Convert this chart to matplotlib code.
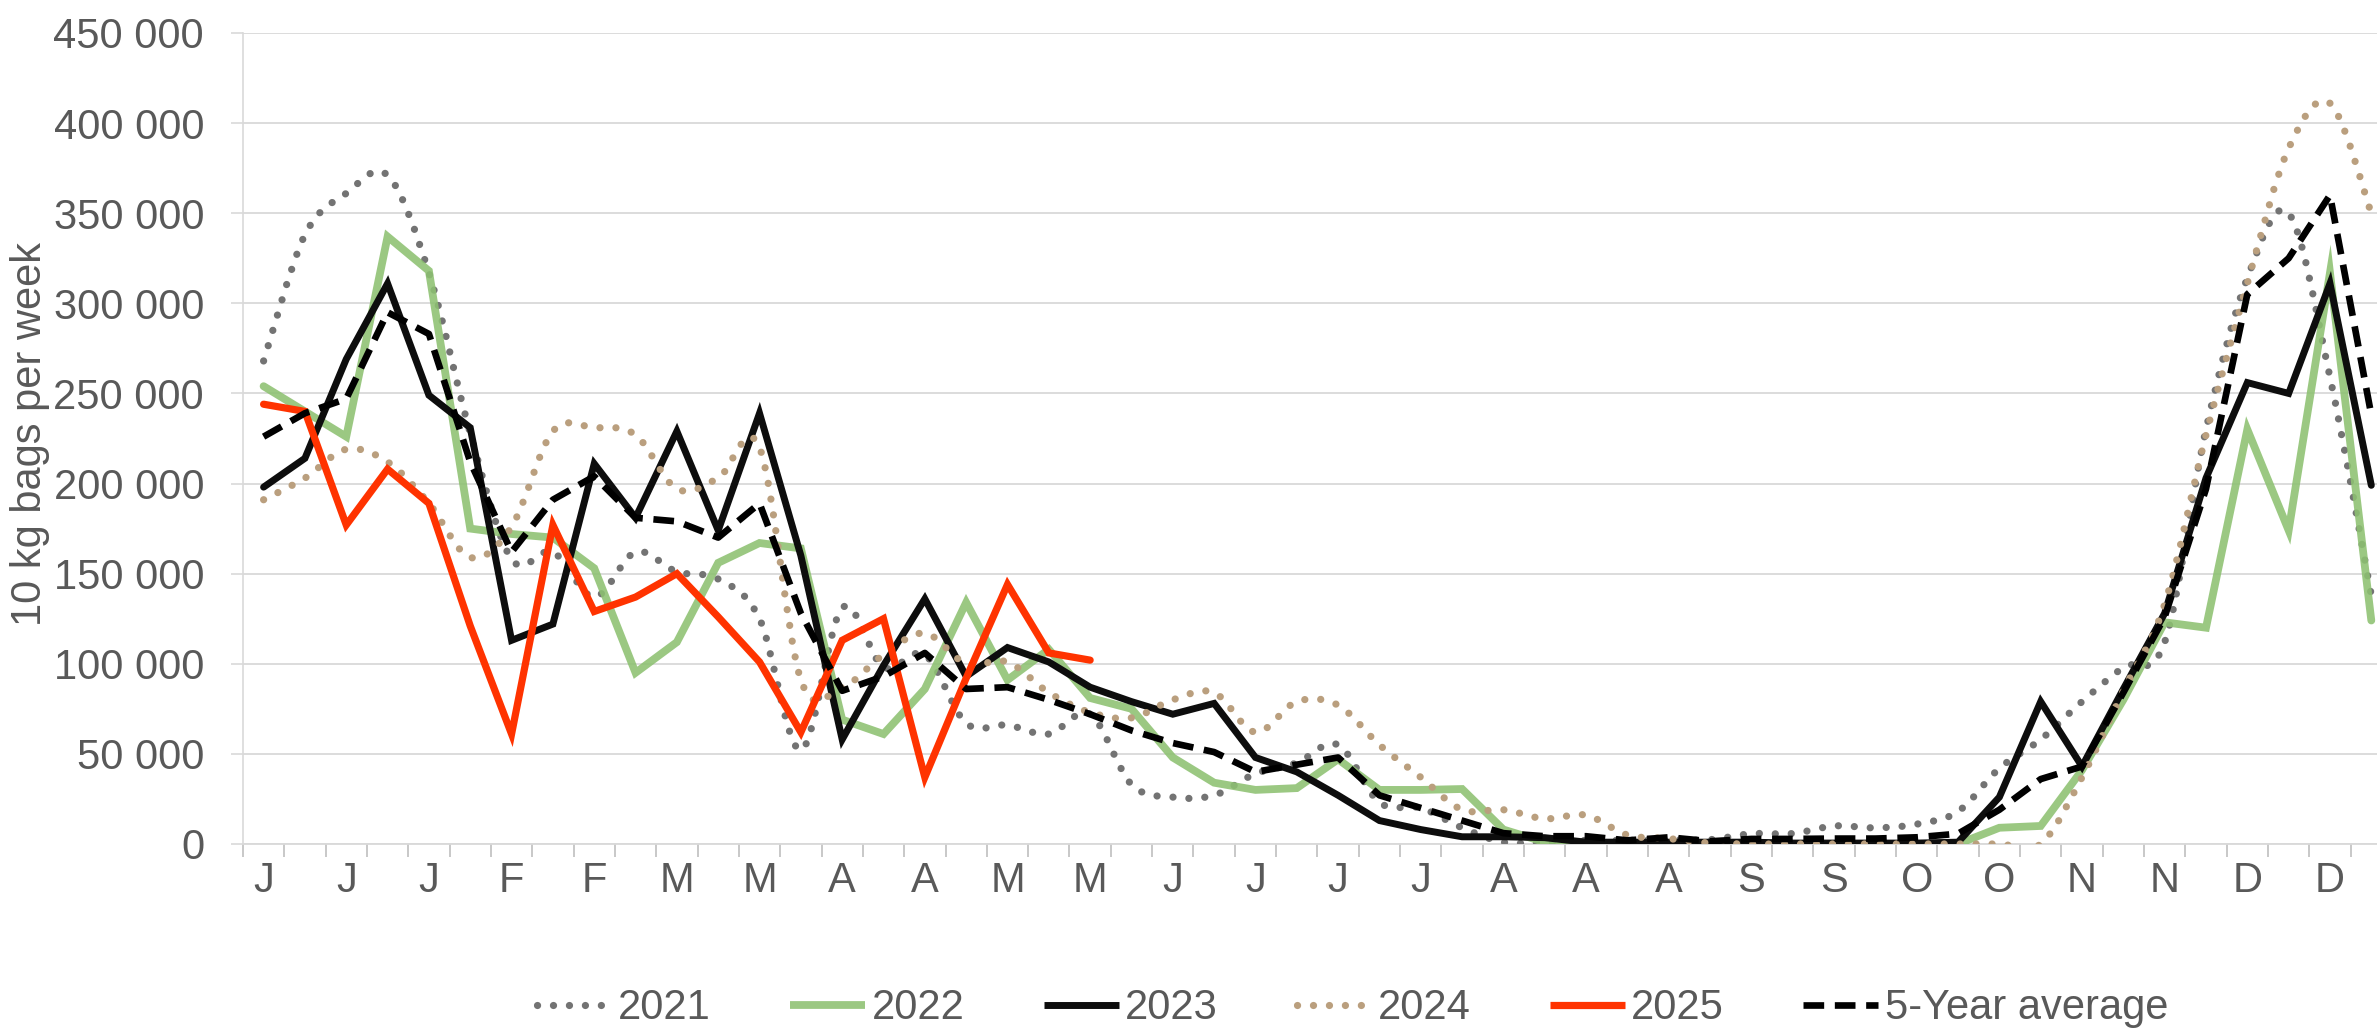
import matplotlib
matplotlib.use('Agg')
import matplotlib.pyplot as plt
from matplotlib.path import Path
from matplotlib.patches import PathPatch
from matplotlib.lines import Line2D
import numpy as np

plt.rcParams['font.family'] = ['Liberation Sans', 'DejaVu Sans']

# weekly values, thousands of 10 kg bags
weeks = np.arange(52)
y2021 = [268, 338, 361, 371, 317, 228, 158, 162, 137, 162, 151, 147, 125, 52, 131, 98, 105, 67, 66, 61,
         72, 33, 26, 27, 39, 45, 55, 23, 20, 9, 1, 1, 2, 2, 2.5, 2.4, 5.7, 5.8, 10, 9,
         11, 18, 42, 58, 79, 98, 112, 230, 314, 350, 259, 138]
y2022 = [254, 240, 226, 337, 318, 175, 172, 170, 153, 95, 112, 156, 167, 164, 69, 61, 86, 134, 91, 108,
         81, 75, 48, 34, 30, 31, 47, 30, 30, 30.5, 8, 1, 0, 0, 0, 0, 0, 0, 0, 0,
         0, 0, 9, 10, 41, 80, 123, 120, 230, 174, 317, 124]
y2023 = [198, 214, 269, 311, 249, 231, 113, 122, 211, 181, 229, 174, 239, 160, 58, 99, 136, 93, 109, 101,
         87, 79, 72, 78, 48, 40, 27, 13, 8, 4, 4, 3.5, 1, 1, 1, 1, 1, 0.5, 0.5, 0.5,
         0.5, 1, 26, 79, 43, 86, 128, 203, 256, 250, 311, 199]
y2024 = [191, 203, 219, 212, 189, 159, 176, 229, 231, 227, 197, 203, 220, 91, 87, 105, 117, 100, 101, 84,
         73, 70, 80, 84, 62, 79, 77, 55, 37, 19, 19, 14, 16, 5, 3, 0.5, 0, 0, 0, 0,
         0, 0, 0, 0, 37, 85, 133, 227, 311, 386, 411, 350]
y2025 = [244, 240, 177, 208, 189, 121, 61, 177, 129, 137, 150, 126, 101, 62, 113, 125, 37, 92, 144, 106,
         102]
y_avg = [226, 239, 247, 295, 283, 212, 162, 191, 204, 181, 179, 170, 189, 128, 85, 93, 106, 86, 87, 80,
         72, 63, 56, 51, 40, 44, 48, 27, 20, 13, 6, 4.3, 4.3, 2, 3.7, 1.5, 2.8, 2.8, 3, 3,
         3.7, 5.7, 19, 36, 43, 84, 126, 197, 305, 325, 360, 238]

month_labels = ['J', 'J', 'J', 'F', 'F', 'M', 'M', 'A', 'A', 'M', 'M', 'J', 'J',
                'J', 'J', 'A', 'A', 'A', 'S', 'S', 'O', 'O', 'N', 'N', 'D', 'D']
y_ticks = [0, 50000, 100000, 150000, 200000, 250000, 300000, 350000, 400000, 450000]
y_labels = ['0', '50 000', '100 000', '150 000', '200 000', '250 000', '300 000',
            '350 000', '400 000', '450 000']

TXT = '#595959'
GRID = '#D9D9D9'


def smooth_path(x, y):
    # bezier through every point, like a smoothed office line
    verts = [(x[0], y[0])]
    codes = [Path.MOVETO]
    n = len(x)
    for i in range(n - 1):
        xp, yp = (x[i - 1], y[i - 1]) if i > 0 else (x[i], y[i])
        xn, yn = (x[i + 2], y[i + 2]) if i + 2 < n else (x[i + 1], y[i + 1])
        c1 = (x[i] + (x[i + 1] - xp) / 6.0, y[i] + (y[i + 1] - yp) / 6.0)
        c2 = (x[i + 1] - (xn - x[i]) / 6.0, y[i + 1] - (yn - y[i]) / 6.0)
        verts += [c1, c2, (x[i + 1], y[i + 1])]
        codes += [Path.CURVE4] * 3
    return Path(verts, codes)


fig = plt.figure(figsize=(23.77, 10.30), dpi=100)
ax = fig.add_axes([0.1022, 0.1806, 0.9041, 0.7874])

dot = (0, (0.01, 2.2))
dash = (0, (3.1, 1.6))

series = [
    ('2021', y2021, dict(color='#737373', lw=5.2, ls=dot), True),
    ('2022', y2022, dict(color='#8DC171', lw=5.6, ls='-', alpha=0.88), False),
    ('2023', y2023, dict(color='#0D0D0D', lw=5.0, ls='-'), False),
    ('2024', y2024, dict(color='#BA9F7E', lw=5.2, ls=dot), True),
    ('2025', y2025, dict(color='#FF3300', lw=5.2, ls='-'), False),
    ('5-Year average', y_avg, dict(color='#000000', lw=4.8, ls=dash), False),
]

handles = []
for z, (name, vals, st, smooth) in enumerate(series):
    xs = weeks[:len(vals)]
    ys = np.array(vals) * 1000.0
    if smooth:
        patch = PathPatch(smooth_path(xs, ys), fill=False, edgecolor=st['color'],
                          lw=st['lw'], linestyle=st['ls'], zorder=3 + z)
        patch.set_capstyle('round')
        ax.add_patch(patch)
    else:
        ax.plot(xs, ys, color=st['color'], lw=st['lw'], linestyle=st['ls'],
                alpha=st.get('alpha', 1.0), zorder=3 + z,
                solid_joinstyle='miter', solid_capstyle='round', dash_capstyle='butt')
    h = Line2D([], [], color=st['color'], lw=st['lw'], linestyle=st['ls'],
               alpha=st.get('alpha', 1.0), solid_capstyle='butt',
               dash_capstyle='round' if smooth else 'butt')
    handles.append(h)

ax.set_xlim(-0.5, 51.5)
ax.set_ylim(0, 450000)

ax.set_yticks(y_ticks)
ax.set_yticklabels(y_labels)
ax.set_xticks(weeks[::2])
ax.set_xticklabels(month_labels)
ax.set_xticks(np.arange(-0.5, 52, 1), minor=True)

ax.tick_params(axis='y', length=9, width=1.2, color=GRID, pad=19, labelsize=30, labelcolor=TXT)
ax.tick_params(axis='x', which='major', length=0, pad=12, labelsize=30, labelcolor=TXT)
ax.tick_params(axis='x', which='minor', length=9, width=1.2, color='#BFBFBF')

ax.grid(axis='y', color=GRID, lw=1.3)
ax.set_axisbelow(True)
for s in ['top', 'right']:
    ax.spines[s].set_visible(False)
ax.spines['left'].set_color(GRID)
ax.spines['left'].set_linewidth(1.2)
ax.spines['bottom'].set_color(GRID)
ax.spines['bottom'].set_linewidth(1.3)

fig.text(0.0125, 0.579, '10 kg bags per week', rotation=90, ha='center', va='center',
         fontsize=30, color=TXT)

fig.legend(handles, [s[0] for s in series], loc='center', bbox_to_anchor=(0.569, 0.021),
           ncol=6, frameon=False, fontsize=30, handlelength=1.8, handletextpad=0.15,
           columnspacing=1.9, labelcolor=TXT)

fig.savefig('out.png', dpi=100)
